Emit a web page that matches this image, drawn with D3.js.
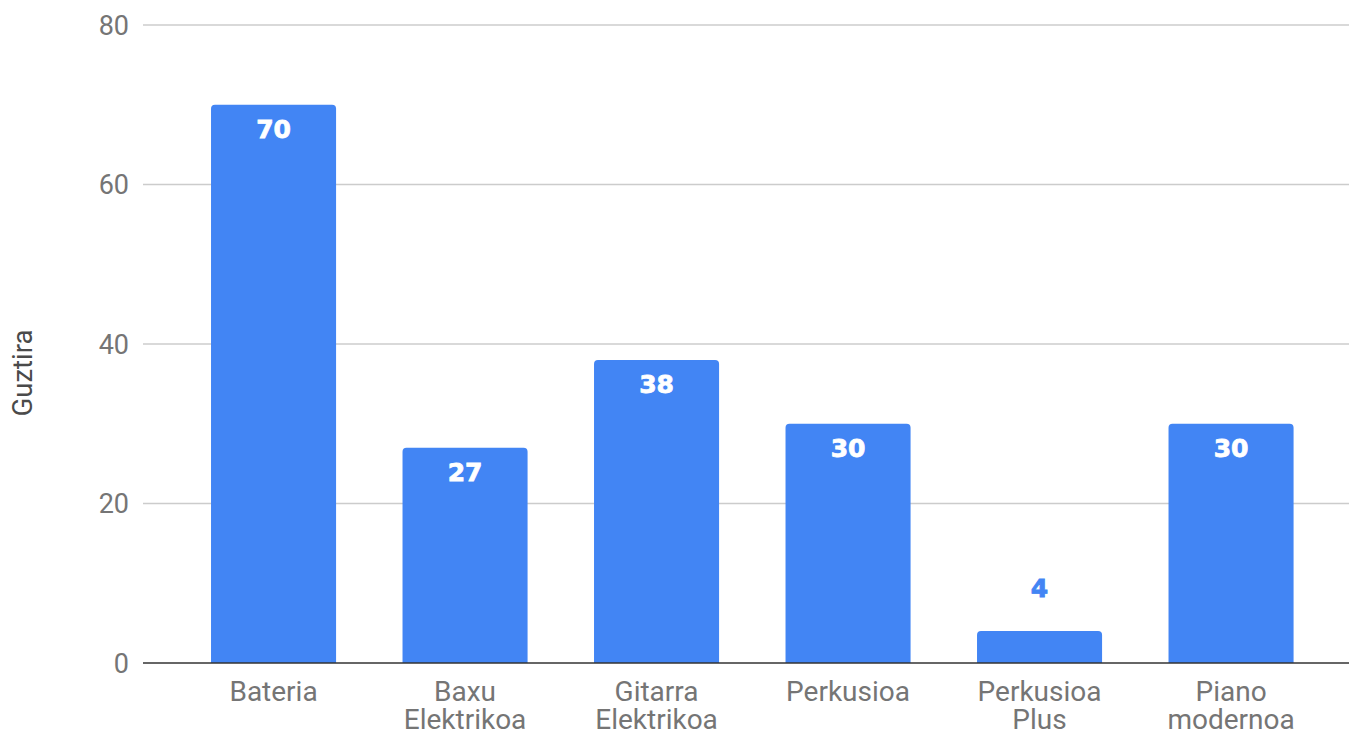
<!DOCTYPE html>
<html><head><meta charset="utf-8">
<script src="https://cdn.jsdelivr.net/npm/d3@7"></script>
<style>body{margin:0;background:#fff}svg{display:block}</style>
</head><body><svg id="c" width="1349" height="731"></svg>
<script>
const categories = [["Bateria"],["Baxu","Elektrikoa"],["Gitarra","Elektrikoa"],["Perkusioa"],["Perkusioa","Plus"],["Piano","modernoa"]];
const values = [70,27,38,30,4,30];
const yTicks = [0,20,40,60,80];
const yTitle = "Guztira";

(function(){
const svg = d3.select("#c");
const pLeft = 143, pRight = 1349, pTop = 25, pBottom = 663;
const names = categories.map(c => c.join(" "));
const x = d3.scaleBand().domain(names).range([177.8, 1326.8]).paddingInner(0.347).paddingOuter(0.1735);
const y = d3.scaleLinear().domain([0,80]).range([pBottom, pTop]);
const font = "Roboto, 'Open Sans', sans-serif";

svg.append("g").selectAll("line").data(yTicks.filter(t=>t>0)).join("line")
  .attr("x1", pLeft).attr("x2", pRight).attr("y1", d=>y(d)).attr("y2", d=>y(d))
  .attr("stroke", "#cccccc").attr("stroke-width", 1.3);
svg.append("g").selectAll("text").data(yTicks).join("text")
  .attr("x", 129).attr("y", d=>y(d)).attr("dy","0.36em").attr("text-anchor","end")
  .attr("font-family", font).attr("font-size", 27).attr("fill", "#757575").text(d=>d);
svg.append("text").attr("transform", `translate(32,373) rotate(-90)`)
  .attr("text-anchor","middle").attr("font-family", font).attr("font-size", 27.5).attr("fill","#4a4a4a").text(yTitle);

const r = 4;
const bw = x.bandwidth();
svg.append("g").selectAll("path").data(values).join("path")
  .attr("d", (d,i) => {
    const x0 = x(names[i]), x1 = x0 + bw, y0 = y(d), yb = y(0);
    return `M${x0},${yb}V${y0+r}Q${x0},${y0} ${x0+r},${y0}H${x1-r}Q${x1},${y0} ${x1},${y0+r}V${yb}Z`;
  })
  .attr("fill", "#4285f4");

svg.append("line").attr("x1", pLeft).attr("x2", pRight).attr("y1", y(0)).attr("y2", y(0))
  .attr("stroke", "#333").attr("stroke-width", 1.6);

svg.append("g").selectAll("text").data(values).join("text")
  .attr("x", (d,i)=>x(names[i]) + bw/2)
  .attr("y", d => (y(0)-y(d) > 50) ? y(d) + 24 : y(d) - 43)
  .attr("dy","0.36em").attr("text-anchor","middle")
  .attr("font-family", "'DejaVu Sans', Roboto, sans-serif").attr("font-weight", 900).attr("font-size", 25)
  .attr("stroke", d => (y(0)-y(d) > 50) ? "#ffffff" : "#4285f4").attr("stroke-width", 0.8)
  .attr("fill", d => (y(0)-y(d) > 50) ? "#ffffff" : "#4285f4").text(d=>d);

const xl = svg.append("g").selectAll("text").data(categories).join("text")
  .attr("x", (d,i)=>x(names[i]) + bw/2).attr("y", 701)
  .attr("text-anchor","middle").attr("font-family", font).attr("font-size", 28).attr("fill","#757575");
xl.selectAll("tspan").data(d=>d).join("tspan")
  .attr("x", function(){ return this.parentNode.getAttribute("x"); })
  .attr("dy", (d,i)=> i===0 ? 0 : 28).text(d=>d);
})();
</script></body></html>
